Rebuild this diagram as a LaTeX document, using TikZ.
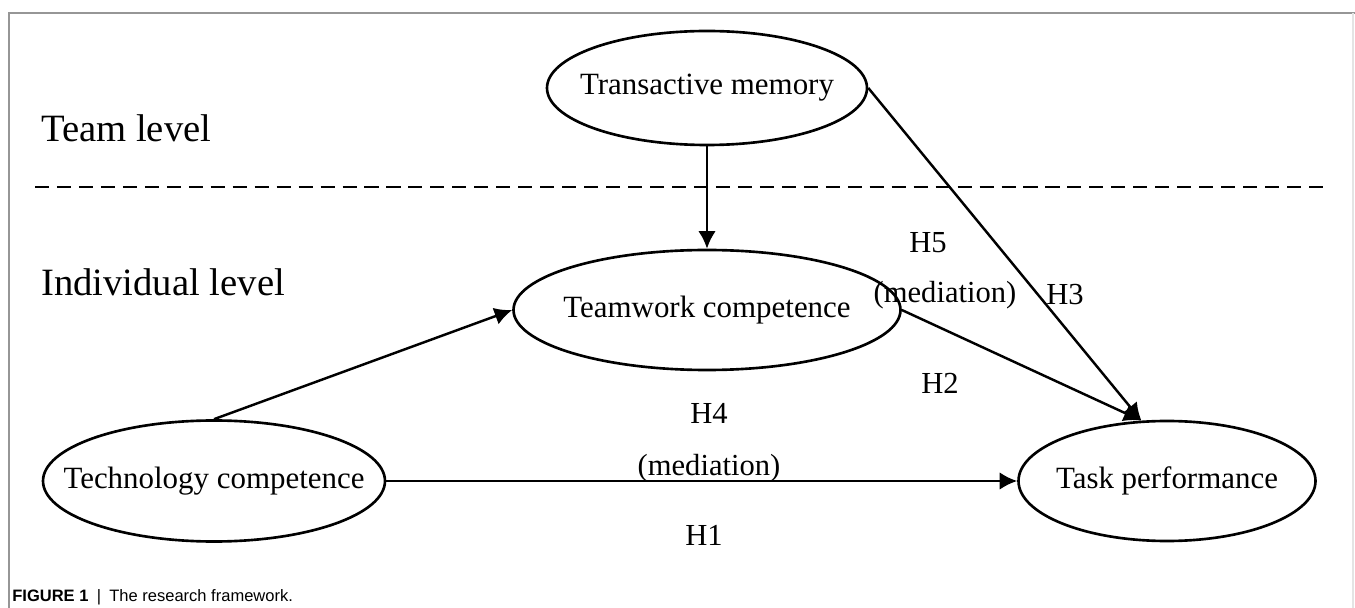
\documentclass[tikz,border=0pt]{standalone}
\usepackage{fontspec}
\setmainfont{Liberation Serif}
\newfontfamily\capfont{Liberation Sans}
\usetikzlibrary{shapes,arrows,arrows.meta,calc}
\definecolor{framegray}{RGB}{150,150,150}
\definecolor{edgegray}{RGB}{228,228,228}
\newcommand{\boxtxt}[1]{\makebox[0pt]{#1}}
\tikzset{
    construct/.style = {draw, ellipse, line width=1.5pt, inner sep=0pt,
        font=\fontsize{17.6}{20}\selectfont},
    lvltext/.style = {anchor=west, font=\fontsize{22}{26}\selectfont},
    hyp/.style = {font=\fontsize{17.4}{20}\selectfont},
    link/.style = {draw, ->, line width=1.4pt},
    levelline/.style = {draw, line width=1.4pt, dash pattern=on 8pt off 4.5pt}
}

\begin{document}
\begin{tikzpicture}[auto, node distance=2cm, >={Latex[length=10pt,width=10pt]}]
        \useasboundingbox (0,0) rectangle (27.1,-12.16);
        \draw [framegray, line width=0.8pt] (0.18,-12.16) -- (0.18,-0.26) -- (27.1,-0.26);
        \draw [edgegray, line width=0.8pt] (27.06,-0.26) -- (27.06,-12.16);
        \node [construct, minimum width=6.84cm, minimum height=2.42cm] (tech) at (4.28,-9.62) {\boxtxt{Technology competence}};
        \node [construct, right of=tech, node distance=19.06cm, minimum width=5.94cm, minimum height=2.4cm] (task) {\boxtxt{Task performance}};
        \node [construct, minimum width=7.74cm, minimum height=2.4cm] (team) at ($(tech)+(9.86,3.42)$) {\boxtxt{Teamwork competence}};
        \node [construct, above of=team, node distance=4.44cm, minimum width=6.4cm, minimum height=2.28cm] (trans) {\boxtxt{Transactive memory}};
        \node [lvltext] (teamlvl) at (0.7,-2.56) {Team level};
        \node [lvltext] (indlvl) at (0.7,-5.64) {Individual level};
        \coordinate (dashL) at (0.7,-3.74);
        \coordinate (dashR) at (26.6,-3.74);
        \draw [levelline] (dashL) -- (dashR);
        \draw [link] (tech.east) -- (task.west);
        \draw [link] (tech.north) -- (team.west);
        \draw [link] (trans.south) -- (team.north);
        \draw [link] (team.east) -- (task.113);
        \draw [link] (trans.east) -- (task.113);
        \node [hyp] (h5) at (18.56,-4.86) {H5};
        \node [hyp] (med2) at (18.9,-5.9) {(mediation)};
        \node [hyp] (h3) at (21.3,-5.9) {H3};
        \node [hyp] (h2) at (18.8,-7.66) {H2};
        \node [hyp] (h4) at (14.18,-8.26) {H4};
        \node [hyp] (med1) at (14.18,-9.36) {(mediation)};
        \node [hyp] (h1) at (14.08,-10.7) {H1};
        \node [anchor=west, inner sep=0pt, font=\capfont\fontsize{9.4}{11}\selectfont] (caption) at (0.24,-11.94) {\textbf{FIGURE 1}\enspace|\enspace The research framework.};
\end{tikzpicture}
\end{document}
